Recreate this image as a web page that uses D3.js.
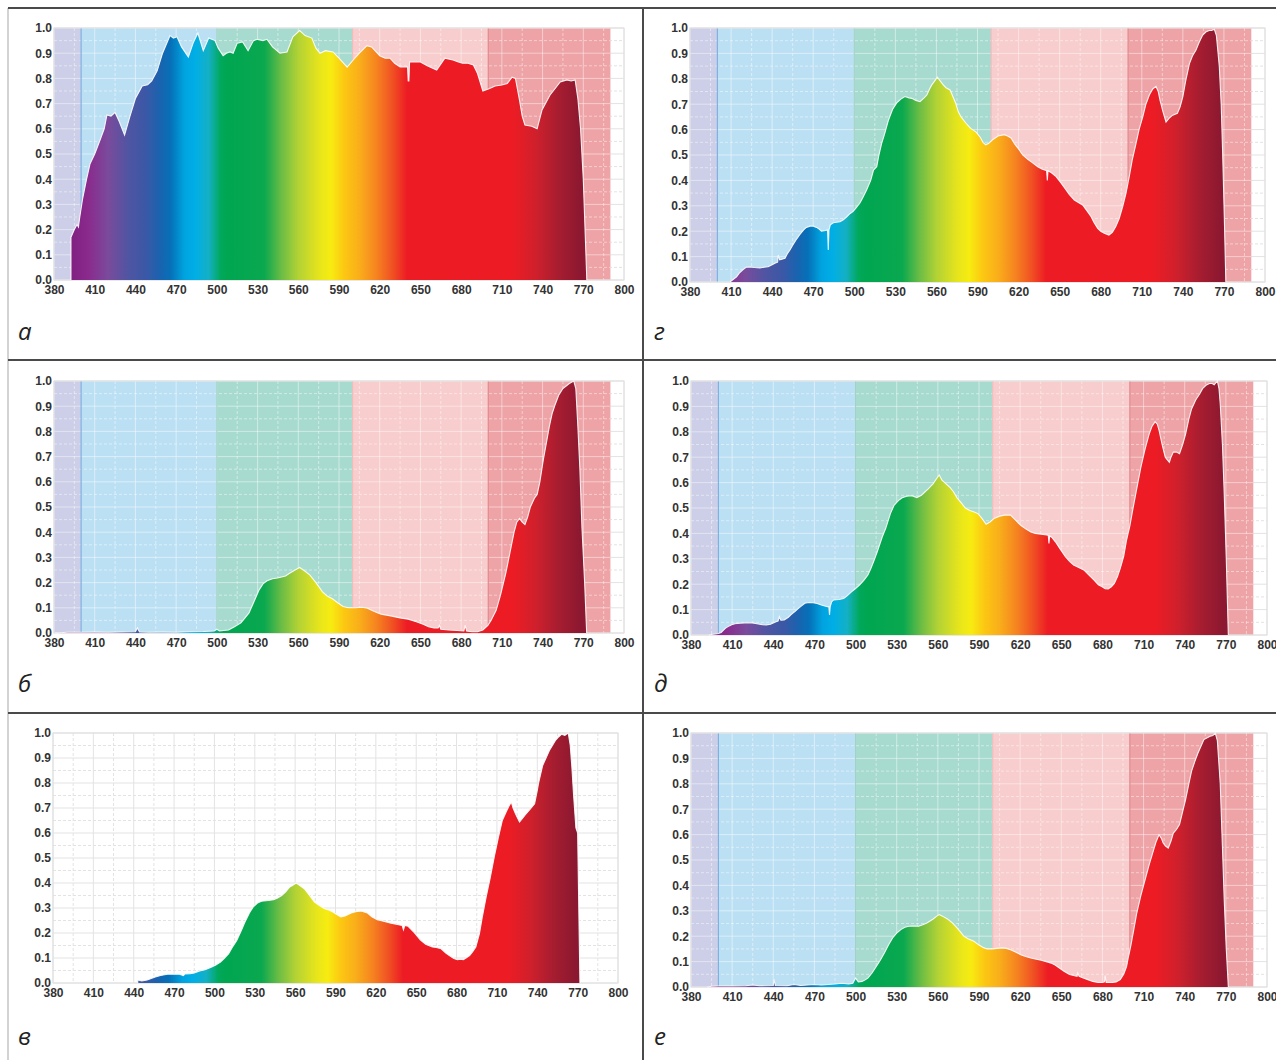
<!DOCTYPE html>
<html>
<head>
<meta charset="utf-8">
<script src="https://cdn.jsdelivr.net/npm/d3@7"></script>
<style>
  body { margin: 0; background: #fff; }
</style>
</head>
<body>
<svg id="chart" width="1276" height="1060"></svg>
<script>
// tick labels
const xTicks = d3.range(380, 801, 30);
const yTicks = d3.range(0, 11).map(d => d / 10);

// spectral zones behind the curves (nm)
const bandEdges = [380, 400, 500, 600, 700, 790];
const bandColors = ["#cdcfe8", "#bce0f3", "#a8dbcf", "#f8cdcd", "#eea4a7"];
const bandLines = ["#7fb0e2", "#9fd3c6", "#f3bcbc", "#e2898e"];

// colour of the fill at each wavelength
const spectrumStops = [
  [390, "#7e1f80"], [405, "#8a2a8c"], [420, "#7a4b9c"], [435, "#4f55a2"],
  [448, "#3a58a6"], [458, "#1a63af"], [466, "#0670b8"], [476, "#00a3df"],
  [484, "#00aee6"], [494, "#14b0c4"], [503, "#00a85a"], [508, "#00a651"],
  [535, "#0aa84f"], [548, "#6dbd45"], [560, "#b2d235"], [575, "#e5e41c"],
  [584, "#f7ec11"], [594, "#fcc712"], [605, "#f9ae1a"], [618, "#f58220"],
  [630, "#f04e23"], [640, "#ed1c24"], [718, "#ed1c24"], [735, "#cf202c"],
  [752, "#a61d30"], [768, "#8b1830"]
];

// spectra, [wavelength nm, relative intensity]
const spectrumA = [[392.5,0],[392.5,0.17],[395,0.2],[397,0.22],[398,0.21],[399,0.25],[401,0.32],[404,0.4],[406.5,0.46],[410,0.5],[414,0.556],[417,0.6],[419,0.655],[422,0.65],[425,0.665],[428,0.63],[432,0.575],[436,0.65],[440,0.72],[445,0.77],[449,0.775],[452,0.79],[456,0.83],[460,0.9],[465.5,0.97],[468,0.96],[470.6,0.965],[474,0.925],[479,0.885],[482.5,0.94],[486,0.98],[490,0.91],[494,0.96],[498.6,0.95],[501,0.92],[504.6,0.89],[507,0.9],[509.7,0.905],[512,0.9],[515,0.94],[519,0.945],[523,0.91],[527,0.95],[530,0.955],[534,0.95],[537,0.955],[541,0.925],[546.5,0.9],[551.7,0.905],[556,0.965],[561,0.99],[565,0.97],[570,0.96],[573,0.92],[576,0.9],[580,0.91],[585.6,0.905],[590,0.88],[596,0.845],[600,0.87],[605,0.9],[610.6,0.93],[614,0.925],[620,0.89],[624,0.88],[627.6,0.88],[631,0.86],[635,0.845],[640.5,0.845],[641,0.79],[641.5,0.79],[642,0.865],[644,0.865],[650,0.865],[655,0.85],[659,0.84],[662,0.833],[668,0.88],[674,0.873],[678,0.865],[681,0.86],[685,0.86],[689,0.853],[692,0.82],[696,0.75],[701,0.76],[705,0.77],[710,0.774],[714,0.78],[717.5,0.805],[720,0.8],[723,0.714],[725,0.65],[727,0.615],[732,0.61],[736,0.6],[739.6,0.675],[745.5,0.734],[750,0.765],[753,0.786],[758,0.794],[761,0.79],[764,0.794],[766,0.72],[768,0.6],[770,0.4],[772.6,0]];

const spectrumB = [[381,0],[390,0.003],[400,0.003],[410,0.004],[420,0.003],[430,0.004],[440,0.005],[441.5,0.02],[443,0.004],[450,0.003],[460,0.004],[470,0.003],[480,0.005],[490,0.006],[498,0.008],[500,0.015],[502,0.008],[505,0.01],[508.6,0.012],[513,0.025],[517.7,0.04],[520,0.055],[523.7,0.08],[527,0.12],[531,0.17],[534,0.195],[537,0.207],[541,0.215],[544.7,0.218],[550.6,0.226],[553,0.235],[556.7,0.247],[561,0.26],[565,0.245],[568.6,0.23],[573,0.2],[577.7,0.164],[581,0.148],[585.4,0.135],[589,0.12],[593,0.105],[597,0.1],[602,0.1],[607,0.102],[611,0.098],[616,0.085],[621,0.075],[628,0.068],[635,0.06],[641,0.055],[647,0.045],[652,0.035],[656,0.025],[660,0.02],[663,0.02],[664,0.03],[665,0.015],[671,0.012],[677,0.01],[682,0.008],[683,0.03],[684,0.008],[688,0.005],[692,0.005],[696,0.012],[699.7,0.03],[702,0.05],[705.8,0.09],[709,0.15],[713,0.24],[716,0.32],[719,0.4],[721,0.44],[723,0.455],[725,0.44],[727,0.43],[729,0.46],[731,0.5],[734,0.535],[736,0.55],[738,0.6],[740.5,0.686],[743,0.76],[745,0.82],[747,0.87],[749.5,0.91],[752,0.945],[755,0.97],[759.7,0.99],[763,1],[764.5,0.97],[766,0.82],[767.5,0.65],[769,0.42],[771,0.2],[772.5,0]];

const spectrumC = [[443,0],[443,0.012],[446,0.008],[450,0.012],[453,0.018],[456,0.024],[460,0.03],[465,0.035],[470,0.035],[474,0.035],[477,0.03],[478,0.036],[482,0.037],[485,0.04],[489,0.048],[493,0.053],[498,0.064],[501,0.072],[504.5,0.084],[507,0.097],[510.6,0.117],[513,0.14],[516.6,0.17],[520,0.21],[522.7,0.244],[526,0.28],[528.8,0.304],[532,0.32],[535,0.327],[540,0.33],[544,0.333],[547,0.34],[550,0.35],[553,0.365],[556,0.384],[558,0.39],[560.7,0.4],[563,0.392],[566.8,0.377],[570,0.355],[574.4,0.324],[578,0.31],[582,0.297],[585,0.292],[588,0.284],[591,0.274],[594,0.264],[597,0.268],[601.7,0.28],[605,0.285],[609,0.288],[613.8,0.28],[617,0.265],[621,0.253],[625,0.248],[630.5,0.24],[635,0.235],[639.6,0.23],[640.5,0.213],[641.5,0.23],[644,0.227],[648,0.205],[653,0.173],[657,0.155],[662,0.144],[665,0.142],[668.5,0.137],[672,0.12],[674.6,0.11],[678,0.098],[680.6,0.093],[683,0.095],[685,0.093],[687,0.1],[689.7,0.11],[692,0.125],[694.3,0.144],[697,0.197],[699,0.26],[702,0.344],[705,0.42],[708,0.504],[711,0.58],[714,0.65],[716.5,0.68],[718.6,0.704],[720.7,0.724],[722,0.7],[723.8,0.677],[726.8,0.644],[728.5,0.655],[730.7,0.67],[735,0.697],[738,0.717],[740,0.77],[741,0.8],[744,0.87],[746.5,0.9],[749,0.93],[753.5,0.97],[756,0.985],[758,0.995],[760.5,0.99],[763,1],[764.5,0.95],[765.7,0.864],[767,0.75],[768.7,0.62],[770,0.6],[771.7,0]];

const spectrumD = [[409.2,0],[411,0.008],[414,0.02],[416,0.035],[419,0.05],[421,0.058],[424,0.059],[427,0.057],[431,0.055],[434,0.058],[437,0.06],[440,0.068],[442,0.074],[444,0.078],[444.5,0.106],[445.5,0.087],[449.4,0.093],[451,0.11],[453,0.126],[455,0.145],[458,0.17],[460,0.185],[463,0.205],[465,0.215],[467.7,0.22],[470,0.22],[472.5,0.215],[474,0.21],[476,0.2],[479,0.203],[480.5,0.205],[481,0.126],[481.5,0.205],[482.5,0.225],[484.7,0.233],[487,0.235],[489.6,0.237],[492,0.245],[494.5,0.257],[497,0.27],[499,0.277],[501,0.29],[504,0.31],[506,0.33],[509,0.362],[512,0.4],[514,0.44],[516.4,0.454],[518,0.5],[520,0.546],[522,0.58],[525,0.638],[528,0.68],[531,0.705],[534,0.72],[537,0.73],[540,0.725],[542,0.723],[545,0.715],[548,0.71],[551,0.725],[553,0.736],[555,0.76],[556.6,0.776],[558.5,0.79],[560.7,0.806],[563,0.79],[565,0.776],[567,0.765],[570,0.756],[572,0.73],[574,0.705],[576,0.67],[578,0.65],[581.6,0.625],[585,0.605],[589,0.59],[592,0.57],[594,0.55],[596,0.54],[598,0.545],[601,0.56],[605,0.575],[609.6,0.58],[612,0.575],[614.5,0.567],[617,0.545],[620.5,0.52],[623,0.5],[626.7,0.483],[630,0.47],[634,0.454],[637,0.445],[640.5,0.438],[641,0.4],[641.5,0.438],[644,0.43],[647.4,0.415],[651,0.39],[654.7,0.362],[657,0.345],[660.7,0.323],[664,0.312],[666.8,0.303],[670,0.28],[673,0.257],[675,0.235],[677.8,0.211],[680,0.2],[682.6,0.192],[686,0.185],[688.5,0.195],[691,0.218],[693.5,0.25],[696,0.296],[698.5,0.35],[701,0.42],[703,0.48],[705.8,0.546],[708,0.6],[710.7,0.65],[713,0.7],[715.5,0.736],[718,0.76],[720.4,0.77],[722,0.75],[723.3,0.716],[725.5,0.67],[727.7,0.63],[730,0.645],[732.6,0.657],[736,0.664],[738,0.69],[740,0.73],[742,0.79],[744.8,0.86],[747,0.89],[749.6,0.913],[752,0.945],[754.5,0.972],[757,0.985],[759.3,0.99],[761,0.99],[763,0.995],[764.5,0.97],[766.6,0.85],[768,0.7],[769,0.52],[770.3,0.25],[771.4,0]];

const spectrumE = [[393,0],[396,0.003],[397.8,0.004],[400,0.006],[402,0.01],[403.5,0.018],[405,0.026],[407,0.033],[409.7,0.04],[412,0.044],[415.6,0.046],[419,0.047],[423,0.048],[426,0.046],[429,0.043],[432,0.041],[435,0.04],[438,0.042],[442,0.052],[443.5,0.055],[444.4,0.072],[445.5,0.058],[448,0.059],[451,0.07],[453,0.08],[455.7,0.092],[459,0.108],[463,0.125],[466,0.128],[469,0.127],[472,0.124],[475,0.118],[477,0.115],[479.4,0.111],[480.5,0.112],[481,0.079],[481.5,0.112],[482.5,0.13],[484,0.138],[488,0.14],[491.3,0.144],[494,0.155],[497,0.17],[500,0.183],[503,0.197],[506,0.215],[509,0.236],[511,0.26],[513.6,0.295],[516,0.33],[519.5,0.387],[522,0.42],[525.4,0.478],[528,0.51],[531.4,0.53],[534,0.54],[537.3,0.546],[541,0.548],[544.7,0.541],[548,0.55],[550.7,0.564],[553,0.575],[556.6,0.596],[559,0.615],[561,0.63],[563,0.61],[565,0.6],[567,0.59],[569,0.58],[571.4,0.564],[574,0.54],[577.4,0.518],[580,0.5],[583.3,0.49],[586,0.485],[589.3,0.478],[592,0.46],[595.2,0.436],[598,0.445],[601,0.459],[605,0.468],[608.6,0.472],[613,0.472],[617,0.45],[620.4,0.432],[624,0.418],[627.8,0.406],[631,0.4],[635.3,0.397],[638,0.395],[640.5,0.393],[641,0.36],[641.5,0.39],[643,0.385],[645.7,0.367],[649,0.34],[653,0.308],[656,0.29],[659,0.275],[662,0.268],[666.4,0.256],[670,0.237],[673.9,0.216],[677,0.198],[679.8,0.19],[682,0.182],[684.2,0.181],[686.5,0.19],[688.7,0.203],[691,0.23],[693,0.262],[695.5,0.31],[697.6,0.374],[700,0.43],[702,0.49],[705,0.575],[708,0.66],[711,0.73],[714,0.79],[716,0.82],[718.4,0.84],[720,0.83],[721.3,0.806],[723.5,0.75],[725.8,0.7],[728.8,0.68],[730,0.7],[731.7,0.72],[734,0.72],[736.2,0.714],[738.5,0.75],[740.6,0.79],[743,0.85],[745,0.89],[748,0.925],[751,0.95],[753,0.97],[755.5,0.983],[758,0.99],[760,0.99],[761.5,0.985],[763.8,1],[765,0.97],[765.9,0.91],[767.5,0.75],[768.8,0.557],[770.3,0.3],[771.8,0]];

const spectrumF = [[392,0],[395,0.003],[400,0.004],[410,0.004],[420,0.005],[425,0.008],[430,0.005],[440,0.006],[440.5,0.03],[441.5,0.006],[450,0.005],[455,0.01],[460,0.006],[465,0.008],[470,0.01],[475,0.008],[480,0.01],[485,0.012],[490,0.015],[495,0.012],[498,0.015],[500,0.035],[502,0.02],[504.7,0.022],[507,0.028],[509,0.035],[512,0.055],[515,0.08],[518,0.105],[521,0.134],[524,0.165],[527,0.193],[530,0.212],[533,0.226],[536,0.235],[538.8,0.239],[542,0.24],[546,0.239],[549,0.245],[552,0.252],[556.6,0.268],[559,0.278],[561,0.285],[563,0.28],[567,0.268],[570,0.255],[573,0.239],[576,0.22],[578.9,0.2],[582,0.19],[586.3,0.18],[590,0.165],[593.7,0.154],[596,0.15],[599.6,0.15],[603,0.152],[607,0.154],[610,0.152],[613,0.147],[617,0.137],[620.4,0.127],[624,0.12],[627.8,0.114],[631,0.11],[635.3,0.105],[639,0.1],[642.7,0.094],[645,0.088],[648.6,0.075],[652,0.062],[656,0.049],[659,0.045],[661.5,0.042],[662,0.055],[663,0.042],[666,0.035],[669.4,0.029],[673,0.022],[676.8,0.018],[680,0.018],[681.5,0.02],[682,0.045],[682.7,0.018],[687.2,0.018],[690,0.02],[693,0.029],[695.5,0.05],[697.6,0.08],[699,0.12],[700.6,0.16],[703,0.23],[705,0.29],[708,0.36],[711,0.42],[714,0.48],[717,0.534],[719,0.57],[721.3,0.6],[723,0.585],[724.3,0.567],[726,0.555],[728,0.547],[730,0.575],[731.7,0.606],[734,0.62],[736.2,0.64],[738.5,0.69],[740.6,0.737],[743,0.8],[745,0.85],[747.5,0.89],[749.6,0.92],[752,0.95],[754,0.974],[758.5,0.987],[760.5,0.99],[762.3,1],[763.8,0.97],[765.9,0.8],[767.5,0.55],[768.8,0.344],[770.3,0.15],[771.8,0]];

// where each small chart sits on the page
const panels = [
  { name: "а", data: spectrumA, x0: 54,  x1: 624,  y0: 28,  y1: 280, bands: true,  lx: 18,  ly: 340 },
  { name: "б", data: spectrumB, x0: 54,  x1: 624,  y0: 381, y1: 633, bands: true,  lx: 18,  ly: 692 },
  { name: "в", data: spectrumC, x0: 53,  x1: 618,  y0: 733, y1: 983, bands: false, lx: 18,  ly: 1045 },
  { name: "г", data: spectrumD, x0: 690, x1: 1265, y0: 28,  y1: 282, bands: true,  lx: 654, ly: 340 },
  { name: "д", data: spectrumE, x0: 691, x1: 1267, y0: 381, y1: 635, bands: true,  lx: 654, ly: 692 },
  { name: "е", data: spectrumF, x0: 691, x1: 1267, y0: 733, y1: 987, bands: true,  lx: 654, ly: 1045 }
];

const svg = d3.select("#chart");
const defs = svg.append("defs");

const gridX = d3.range(380, 801, 15);
const gridY = d3.range(0, 21).map(d => d / 20);

panels.forEach(function (p, i) {
  const x = d3.scaleLinear().domain([380, 800]).range([p.x0, p.x1]);
  const y = d3.scaleLinear().domain([0, 1]).range([p.y1, p.y0]);
  const g = svg.append("g");

  //white plot area with light grey grid
  g.append("rect")
    .attr("x", p.x0).attr("y", p.y0)
    .attr("width", p.x1 - p.x0).attr("height", p.y1 - p.y0)
    .attr("fill", "#fff");

  function drawGrid(target, colour, opacity) {
    target.selectAll(null)
      .data(gridX)
      .enter()
      .append("line")
      .attr("x1", d => x(d)).attr("x2", d => x(d))
      .attr("y1", p.y0).attr("y2", p.y1)
      .attr("stroke", colour)
      .attr("stroke-opacity", opacity)
      .attr("stroke-dasharray", d => (d - 380) % 30 === 0 ? null : "3,2");
    target.selectAll(null)
      .data(gridY)
      .enter()
      .append("line")
      .attr("x1", p.x0).attr("x2", p.x1)
      .attr("y1", d => y(d)).attr("y2", d => y(d))
      .attr("stroke", colour)
      .attr("stroke-opacity", opacity)
      .attr("stroke-dasharray", (d, j) => j % 2 === 0 ? null : "3,2");
  }
  drawGrid(g.append("g"), "#e3e3e3", 1);

  //coloured zones with whitish grid on top
  if (p.bands) {
    g.selectAll(null)
      .data(bandColors)
      .enter()
      .append("rect")
      .attr("x", (d, j) => x(bandEdges[j]))
      .attr("width", (d, j) => x(bandEdges[j + 1]) - x(bandEdges[j]))
      .attr("y", p.y0)
      .attr("height", p.y1 - p.y0)
      .attr("fill", d => d);

    const clipId = "bandclip" + i;
    defs.append("clipPath").attr("id", clipId)
      .append("rect")
      .attr("x", p.x0).attr("y", p.y0)
      .attr("width", x(790) - p.x0).attr("height", p.y1 - p.y0);
    drawGrid(g.append("g").attr("clip-path", "url(#" + clipId + ")"), "#fff", 0.45);

    g.selectAll(null)
      .data(bandLines)
      .enter()
      .append("line")
      .attr("x1", (d, j) => x(bandEdges[j + 1]))
      .attr("x2", (d, j) => x(bandEdges[j + 1]))
      .attr("y1", p.y0).attr("y2", p.y1)
      .attr("stroke", d => d)
      .attr("stroke-width", 1.2);
  }

  g.append("rect")
    .attr("x", p.x0).attr("y", p.y0)
    .attr("width", p.x1 - p.x0).attr("height", p.y1 - p.y0)
    .attr("fill", "none")
    .attr("stroke", "#e0e0e0");

  //spectral gradient across the wavelength axis
  const gradId = "spec" + i;
  const grad = defs.append("linearGradient")
    .attr("id", gradId)
    .attr("gradientUnits", "userSpaceOnUse")
    .attr("x1", x(380)).attr("x2", x(800))
    .attr("y1", 0).attr("y2", 0);
  grad.selectAll("stop")
    .data(spectrumStops)
    .enter()
    .append("stop")
    .attr("offset", d => (d[0] - 380) / 420)
    .attr("stop-color", d => d[1]);

  const area = d3.area()
    .x(d => x(d[0]))
    .y0(y(0))
    .y1(d => y(d[1]));
  const line = d3.line()
    .x(d => x(d[0]))
    .y(d => y(d[1]));

  g.append("path")
    .datum(p.data)
    .attr("d", area)
    .attr("fill", "url(#" + gradId + ")");

  g.append("path")
    .datum(p.data)
    .attr("d", line)
    .attr("fill", "none")
    .attr("stroke", "#fff")
    .attr("stroke-width", 1.1)
    .attr("stroke-opacity", 0.9);

  //tick labels only, no tick marks
  const xAxis = g.append("g")
    .attr("transform", "translate(0," + p.y1 + ")")
    .call(d3.axisBottom(x).tickValues(xTicks).tickSize(0).tickPadding(5));
  const yAxis = g.append("g")
    .attr("transform", "translate(" + p.x0 + ",0)")
    .call(d3.axisLeft(y).tickValues(yTicks).tickFormat(d3.format(".1f")).tickSize(0).tickPadding(2));
  [xAxis, yAxis].forEach(function (a) {
    a.select(".domain").remove();
    a.selectAll("text")
      .attr("fill", "#333")
      .style("font-family", "'Liberation Sans', Arial, sans-serif")
      .style("font-size", "12px")
      .style("font-weight", "bold");
  });

  svg.append("text")
    .attr("x", p.lx)
    .attr("y", p.ly)
    .text(p.name)
    .attr("fill", "#222")
    .style("font-family", "'Open Sans', 'Noto Sans', sans-serif")
    .style("font-style", "italic")
    .style("font-size", "24px");
});

//frame lines between the panels
const frame = svg.append("g");
frame.append("line").attr("x1", 8).attr("x2", 8).attr("y1", 8).attr("y2", 1060)
  .attr("stroke", "#c4c4c4").attr("stroke-width", 1.5);
[8, 360, 713].forEach(function (yy) {
  frame.append("line").attr("x1", 8).attr("x2", 1276).attr("y1", yy).attr("y2", yy)
    .attr("stroke", "#4a4a4a").attr("stroke-width", 2);
});
frame.append("line").attr("x1", 643).attr("x2", 643).attr("y1", 8).attr("y2", 1060)
  .attr("stroke", "#4a4a4a").attr("stroke-width", 2);
</script>
</body>
</html>
